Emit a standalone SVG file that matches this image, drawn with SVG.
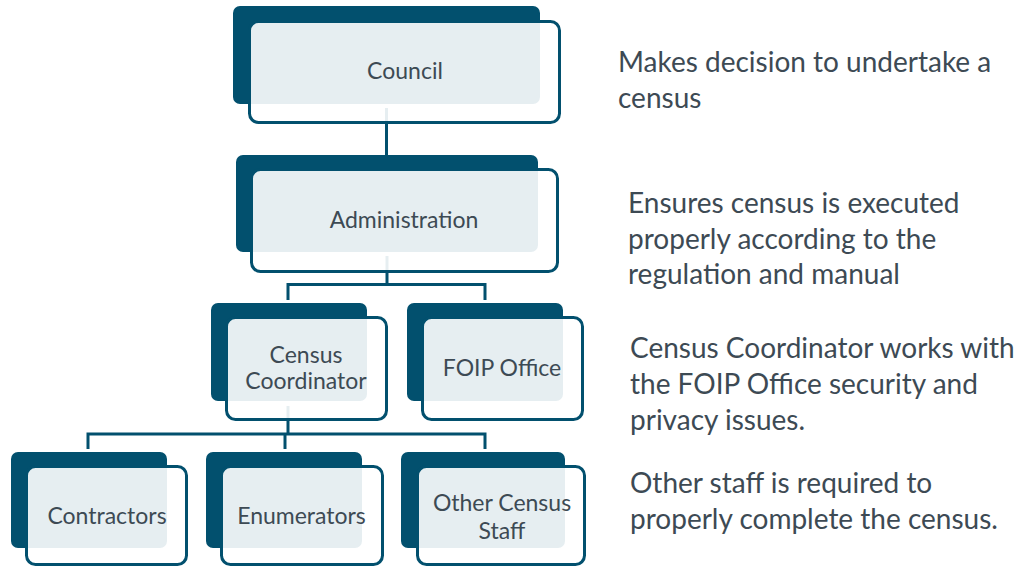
<svg xmlns="http://www.w3.org/2000/svg" width="1019" height="567" viewBox="0 0 1019 567">
  <style>
    .back { fill: #02506E; }
    .front { fill: #FFFFFF; fill-opacity: 0.9; stroke: #02506E; stroke-width: 3; }
    .label { font-family: Lato, "Open Sans", sans-serif; font-size: 23px; fill: #3D4A54; text-anchor: middle; }
    .note { font-family: Lato, "Open Sans", sans-serif; font-size: 28px; fill: #3D4A54; }
    .link { fill: none; stroke: #02506E; stroke-width: 3; }
  </style>
  <rect width="1019" height="567" fill="#FFFFFF"/>

  <!-- connectors sit behind the nodes -->
  <g id="connectors">
    <path class="link" d="M386.5 108 V170"/>
    <path class="link" d="M387 256 V284.5"/>
    <path class="link" d="M288 300 V284.5 H485 V300"/>
    <path class="link" d="M288 406 V434"/>
    <path class="link" d="M88 449 V434 H485 V449"/>
    <path class="link" d="M285 434 V449"/>
  </g>

  <g id="council">
    <rect class="back" x="233" y="6" width="307" height="98" rx="7"/>
    <rect class="front" x="249.5" y="21.5" width="310" height="101" rx="9"/>
    <text class="label" x="405" y="79">Council</text>
  </g>

  <g id="administration">
    <rect class="back" x="236" y="155" width="302" height="97" rx="7"/>
    <rect class="front" x="251.5" y="169.5" width="306" height="102" rx="9"/>
    <text class="label" x="404" y="228">Administration</text>
  </g>

  <g id="census-coordinator">
    <rect class="back" x="211" y="303" width="156" height="98" rx="7"/>
    <rect class="front" x="226.5" y="317.5" width="160" height="102" rx="9"/>
    <text class="label" x="306" y="363">Census</text>
    <text class="label" x="306" y="389">Coordinator</text>
  </g>

  <g id="foip-office">
    <rect class="back" x="407" y="303" width="156" height="98" rx="7"/>
    <rect class="front" x="422.5" y="317.5" width="160" height="102" rx="9"/>
    <text class="label" x="502" y="376">FOIP Office</text>
  </g>

  <g id="contractors">
    <rect class="back" x="11" y="452" width="156" height="96" rx="7"/>
    <rect class="front" x="26.5" y="466.5" width="160" height="98" rx="9"/>
    <text class="label" x="107" y="524">Contractors</text>
  </g>

  <g id="enumerators">
    <rect class="back" x="206" y="452" width="156" height="96" rx="7"/>
    <rect class="front" x="221.5" y="466.5" width="161" height="98" rx="9"/>
    <text class="label" x="301.5" y="524">Enumerators</text>
  </g>

  <g id="other-census-staff">
    <rect class="back" x="401" y="452" width="164" height="96" rx="7"/>
    <rect class="front" x="417.5" y="466.5" width="167" height="98" rx="9"/>
    <text class="label" x="502" y="511">Other Census</text>
    <text class="label" x="502" y="539">Staff</text>
  </g>

  <!-- role descriptions -->
  <g id="notes">
    <text class="note" x="618" y="72">Makes decision to undertake a</text>
    <text class="note" x="618" y="108">census</text>
    <text class="note" x="628" y="213">Ensures census is executed</text>
    <text class="note" x="628" y="249">properly according to the</text>
    <text class="note" x="628" y="284">regulation and manual</text>
    <text class="note" x="630" y="358">Census Coordinator works with</text>
    <text class="note" x="630" y="394">the FOIP Office security and</text>
    <text class="note" x="630" y="430">privacy issues.</text>
    <text class="note" x="630" y="493">Other staff is required to</text>
    <text class="note" x="630" y="529">properly complete the census.</text>
  </g>
</svg>
